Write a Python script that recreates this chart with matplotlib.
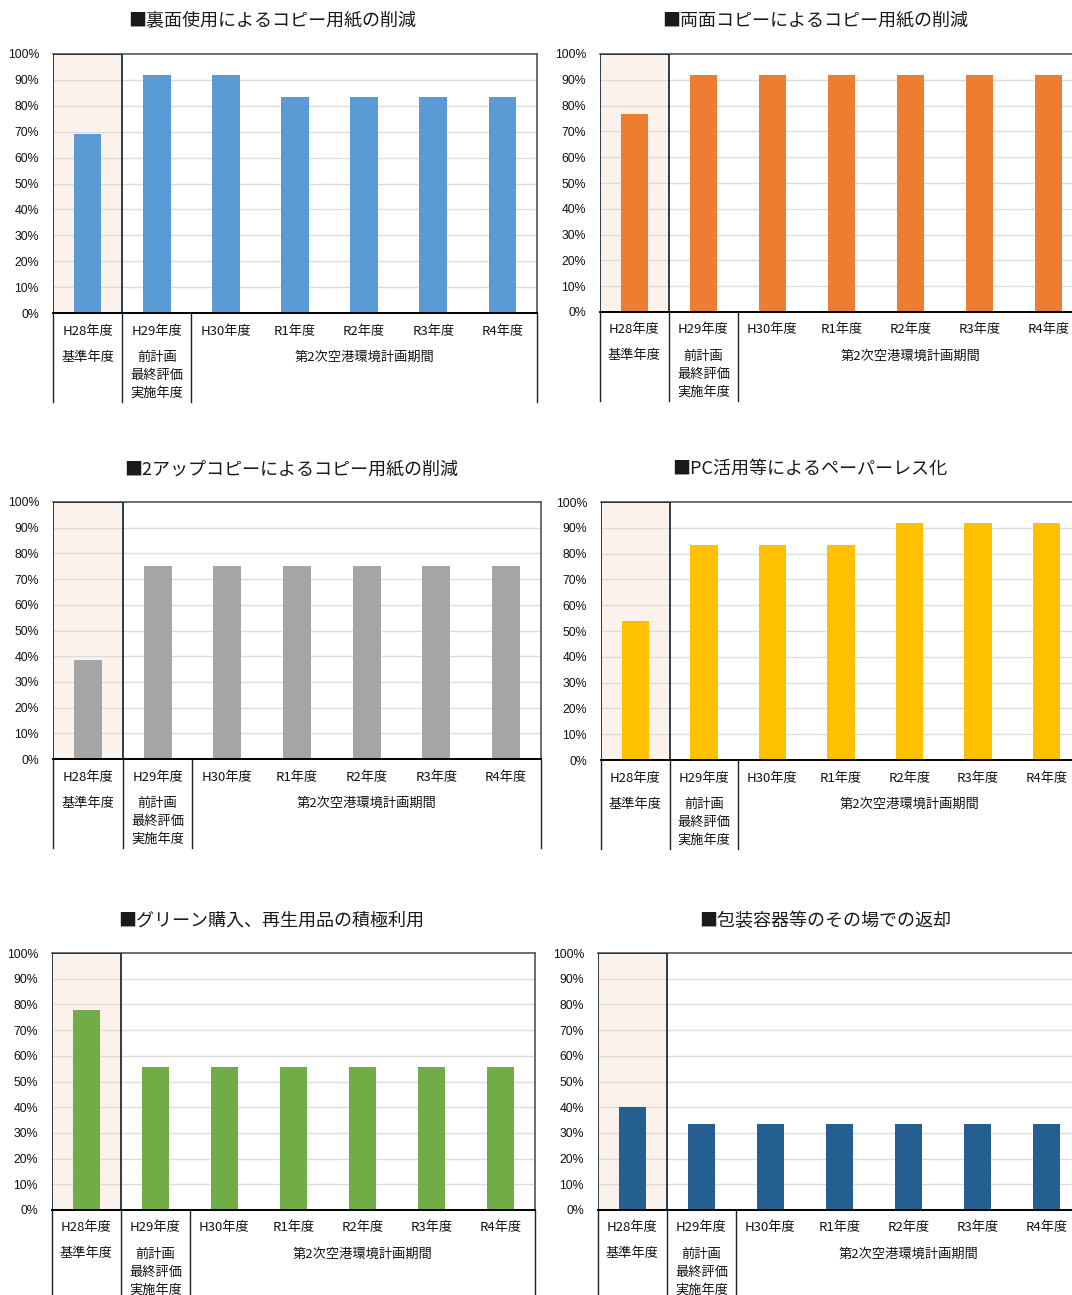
import matplotlib
matplotlib.use('Agg')
import matplotlib.pyplot as plt
from matplotlib.patches import Rectangle

plt.rcParams['font.family'] = ['Noto Sans CJK JP', 'DejaVu Sans']

# Data
years = ['H28年度', 'H29年度', 'H30年度', 'R1年度', 'R2年度', 'R3年度', 'R4年度']
base_label = '基準年度'
prev_label = ['前計画', '最終評価', '実施年度']
period_label = '第2次空港環境計画期間'

titles = [
    '■裏面使用によるコピー用紙の削減',
    '■両面コピーによるコピー用紙の削減',
    '■2アップコピーによるコピー用紙の削減',
    '■PC活用等によるペーパーレス化',
    '■グリーン購入、再生用品の積極利用',
    '■包装容器等のその場での返却',
]
back_side = [69.2, 91.7, 91.7, 83.3, 83.3, 83.3, 83.3]
duplex = [76.9, 91.7, 91.7, 91.7, 91.7, 91.7, 91.7]
two_up = [38.5, 75.0, 75.0, 75.0, 75.0, 75.0, 75.0]
paperless = [53.8, 83.3, 83.3, 83.3, 91.7, 91.7, 91.7]
green_buy = [77.8, 55.6, 55.6, 55.6, 55.6, 55.6, 55.6]
packaging = [40.0, 33.3, 33.3, 33.3, 33.3, 33.3, 33.3]
series = [back_side, duplex, two_up, paperless, green_buy, packaging]
colors = ['#5b9bd5', '#ed7d31', '#a5a5a5', '#ffc000', '#70ad47', '#255e91']

# Panel boxes in pixels: left, top (100%), right, bottom (0%), title centre x, title y
W, H = 1072, 1295
boxes = [
    (53, 54, 537, 313, 272, 20),
    (600, 54, 1083, 312, 815, 20),
    (53, 502, 541, 759, 291, 469),
    (601, 502, 1081, 760, 810, 469),
    (52, 953, 535, 1210, 271, 921),
    (598, 953, 1081, 1210, 825, 921),
]
TABLE_DEPTH = 89
LABEL_FS = 9.5

fig = plt.figure(figsize=(W / 100, H / 100), dpi=100)

for title, vals, col, (l, t, r, b, tx, ty) in zip(titles, series, colors, boxes):
    ax = fig.add_axes([l / W, 1 - b / H, (r - l) / W, (b - t) / H])
    ph = b - t

    def fy(dy):
        # pixel offset below the 0% line -> axes fraction
        return -dy / ph

    # baseline year highlight
    ax.add_patch(Rectangle((0, 0), 1, 100, facecolor='#fcf2ec', edgecolor='none', zorder=0))
    for g in range(10, 100, 10):
        ax.axhline(g, color='#dcdcdc', lw=1, zorder=1)
    x = [i + 0.5 for i in range(len(years))]
    ax.bar(x, vals, width=0.4, color=col, zorder=3)
    ax.add_patch(Rectangle((0, 0), 1, 100, facecolor='none', edgecolor='#1e2d3d',
                           lw=1.3, zorder=4))

    ax.set_xlim(0, 7)
    ax.set_ylim(0, 100)
    ax.set_xticks([])
    ax.set_yticks(range(0, 101, 10))
    ax.set_yticklabels([f'{v}%' for v in range(0, 101, 10)], family='Liberation Sans',
                       fontsize=8.8, color='#111111')
    ax.tick_params(axis='y', length=0, pad=10)
    for side in ['top', 'right']:
        ax.spines[side].set_color('#555555')
        ax.spines[side].set_linewidth(1.2)
    ax.spines['left'].set_visible(False)
    ax.spines['bottom'].set_color('black')
    ax.spines['bottom'].set_linewidth(1.4)
    ax.spines['bottom'].set_zorder(5)

    # category table under the axis
    tr = ax.get_xaxis_transform()
    for xv in [0, 1, 2, 7]:
        ax.plot([xv, xv], [0, fy(TABLE_DEPTH)], transform=tr, color='#222222', lw=1,
                clip_on=False)
    for xi, name in zip(x, years):
        ax.text(xi, fy(18), name, transform=tr, ha='center', va='center',
                fontsize=LABEL_FS, color='#111111')
    ax.text(0.5, fy(44), base_label, transform=tr, ha='center', va='center',
            fontsize=LABEL_FS, color='#111111')
    for k, line in enumerate(prev_label):
        ax.text(1.5, fy(44 + 18 * k), line, transform=tr, ha='center', va='center',
                fontsize=LABEL_FS, color='#111111')
    ax.text(4.5, fy(44), period_label, transform=tr, ha='center', va='center',
            fontsize=LABEL_FS, color='#111111')

    fig.text(tx / W, 1 - ty / H, title, ha='center', va='center', fontsize=13,
             color='#1a1a1a')

fig.savefig('out.png', dpi=100)
